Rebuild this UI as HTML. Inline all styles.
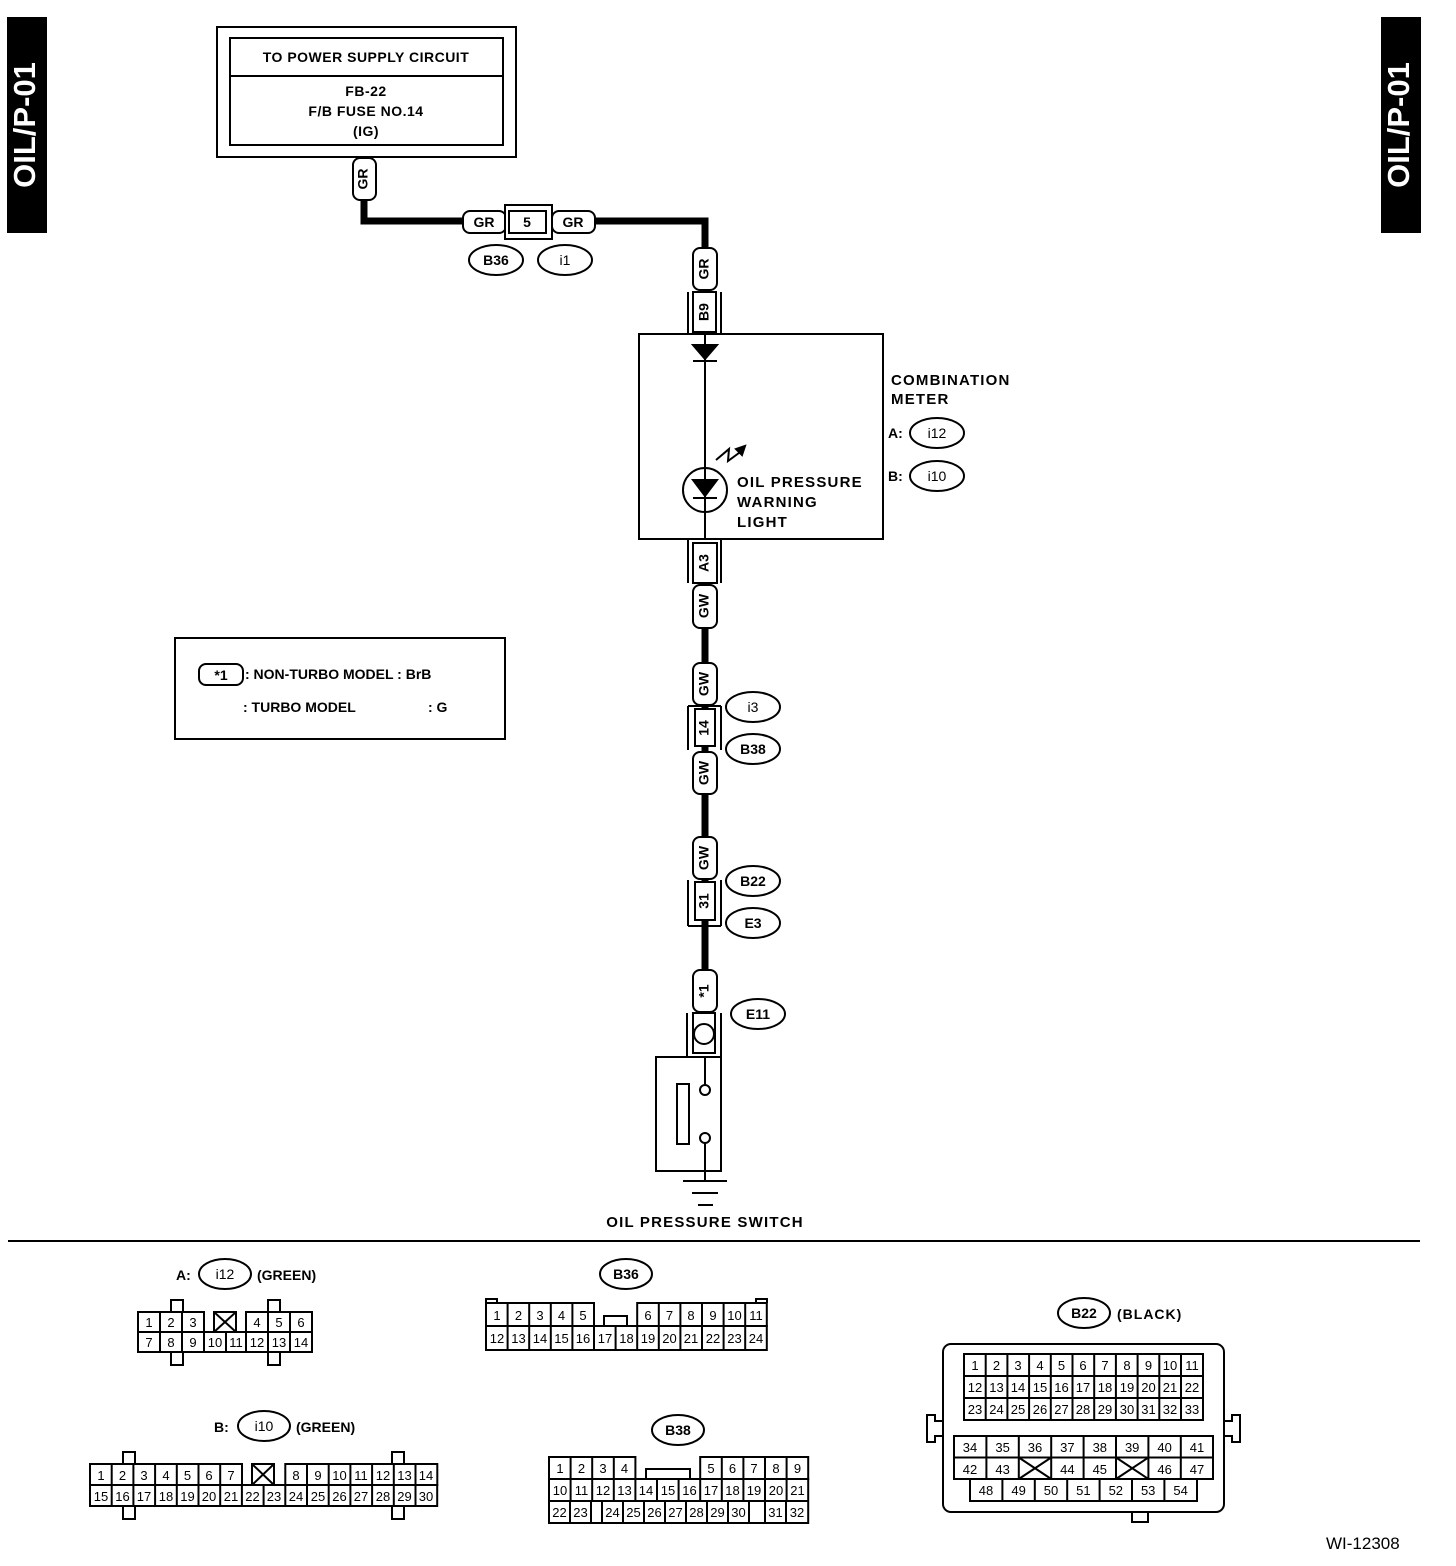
<!DOCTYPE html>
<html><head><meta charset="utf-8"><style>
html,body{margin:0;padding:0;background:#fff;}
svg{display:block}
text{font-family:"Liberation Sans",sans-serif;font-weight:bold;fill:#000}
.n{font-size:13px;font-weight:normal;text-anchor:middle}
.c{text-anchor:middle}
</style></head><body>
<svg width="1456" height="1566" viewBox="0 0 1456 1566" xmlns="http://www.w3.org/2000/svg">
<g fill="none" stroke="#000" stroke-width="2">
<rect x="8" y="18" width="38" height="214" fill="#000"/>
<rect x="1382" y="18" width="38" height="214" fill="#000"/>
<rect x="217" y="27" width="299" height="130"/>
<rect x="230" y="38" width="273" height="107"/>
<line x1="230" y1="76" x2="503" y2="76"/>
<polyline points="364,157 364,221 705,221 705,250" stroke-width="7"/>
<line x1="705" y1="583" x2="705" y2="970" stroke-width="7"/>
<rect x="353" y="158" width="23" height="42" rx="7" fill="#fff"/>
<rect x="463" y="211" width="43" height="22" rx="7" fill="#fff"/>
<rect x="552" y="211" width="43" height="22" rx="7" fill="#fff"/>
<rect x="505" y="205" width="47" height="34" fill="#fff"/>
<rect x="509" y="211" width="37" height="22"/>
<ellipse cx="496" cy="260" rx="27" ry="15"/>
<ellipse cx="565" cy="260" rx="27" ry="15"/>
<rect x="693" y="248" width="24" height="42" rx="7" fill="#fff"/>
<line x1="688" y1="292" x2="688" y2="334"/><line x1="721" y1="292" x2="721" y2="334"/>
<rect x="693" y="292" width="23" height="40" fill="#fff"/>
<rect x="639" y="334" width="244" height="205"/>
<line x1="705" y1="334" x2="705" y2="539"/>
<polygon points="693,345 717,345 705,359" fill="#000"/>
<line x1="693" y1="361" x2="717" y2="361"/>
<circle cx="705" cy="490" r="22" fill="#fff"/>
<line x1="705" y1="468" x2="705" y2="512"/>
<polygon points="693,480 717,480 705,496" fill="#000"/>
<line x1="693" y1="498" x2="717" y2="498"/>
<polyline points="716,460 729,449 728,461 743,450"/>
<polygon points="745,446 736,449 742,455" fill="#000"/>
<ellipse cx="937" cy="433" rx="27" ry="15"/>
<ellipse cx="937" cy="476" rx="27" ry="15"/>
<line x1="688" y1="539" x2="688" y2="583"/><line x1="721" y1="539" x2="721" y2="583"/>
<rect x="693" y="543" width="24" height="40" fill="#fff"/>
<rect x="693" y="585" width="24" height="43" rx="7" fill="#fff"/>
<rect x="693" y="663" width="24" height="42" rx="7" fill="#fff"/>
<line x1="688" y1="706" x2="688" y2="750"/><line x1="721" y1="706" x2="721" y2="750"/>
<line x1="688" y1="706" x2="721" y2="706"/>
<rect x="695" y="709" width="20" height="37" fill="#fff"/>
<rect x="693" y="752" width="24" height="42" rx="7" fill="#fff"/>
<ellipse cx="753" cy="707" rx="27" ry="15"/>
<ellipse cx="753" cy="749" rx="27" ry="15"/>
<rect x="693" y="837" width="24" height="42" rx="7" fill="#fff"/>
<line x1="688" y1="880" x2="688" y2="926"/><line x1="721" y1="880" x2="721" y2="926"/>
<line x1="688" y1="926" x2="721" y2="926"/>
<rect x="695" y="882" width="20" height="38" fill="#fff"/>
<ellipse cx="753" cy="881" rx="27" ry="15"/>
<ellipse cx="753" cy="923" rx="27" ry="15"/>
<rect x="693" y="970" width="24" height="42" rx="7" fill="#fff"/>
<line x1="687" y1="1013" x2="687" y2="1057"/><line x1="721" y1="1013" x2="721" y2="1057"/>
<rect x="693" y="1013" width="22" height="40"/>
<circle cx="704" cy="1034" r="10"/>
<ellipse cx="758" cy="1014" rx="27" ry="15"/>
<rect x="656" y="1057" width="65" height="114"/>
<rect x="677" y="1084" width="12" height="60"/>
<line x1="705" y1="1057" x2="705" y2="1085"/>
<circle cx="705" cy="1090" r="5"/>
<circle cx="705" cy="1138" r="5"/>
<line x1="705" y1="1143" x2="705" y2="1181"/>
<line x1="683" y1="1181" x2="727" y2="1181"/>
<line x1="692" y1="1193" x2="718" y2="1193"/>
<line x1="698" y1="1205" x2="713" y2="1205"/>
<rect x="175" y="638" width="330" height="101"/>
<rect x="199" y="664" width="44" height="21" rx="7"/>
<line x1="8" y1="1241" x2="1420" y2="1241"/>
<ellipse cx="225" cy="1274" rx="26" ry="15"/>
<ellipse cx="626" cy="1274" rx="26" ry="15"/>
<ellipse cx="264" cy="1426" rx="26" ry="15"/>
<ellipse cx="678" cy="1430" rx="26" ry="15"/>
<ellipse cx="1084" cy="1313" rx="26" ry="15"/>
</g>

<g fill="none" stroke="#000" stroke-width="2">
<rect x="138" y="1312" width="66" height="20"/><line x1="160" y1="1312" x2="160" y2="1332"/><line x1="182" y1="1312" x2="182" y2="1332"/>
<rect x="214" y="1312" width="22" height="20"/><line x1="214" y1="1312" x2="236" y2="1332"/><line x1="236" y1="1312" x2="214" y2="1332"/>
<rect x="246" y="1312" width="66" height="20"/><line x1="268" y1="1312" x2="268" y2="1332"/><line x1="290" y1="1312" x2="290" y2="1332"/>
<rect x="138" y="1332" width="174" height="20"/>
<path d="M160 1332v20M182 1332v20M204 1332v20M226 1332v20M246 1332v20M268 1332v20M290 1332v20"/>
<path d="M171 1312v-12h12v12M268 1312v-12h12v12M171 1352v13h12v-13M268 1352v13h12v-13"/>
<rect x="90" y="1464" width="152" height="21"/>
<path d="M111.7 1464v21M133.4 1464v21M155.1 1464v21M176.8 1464v21M198.5 1464v21M220.2 1464v21"/>
<rect x="252" y="1464" width="22" height="21"/><line x1="252" y1="1464" x2="274" y2="1485"/><line x1="274" y1="1464" x2="252" y2="1485"/>
<rect x="285.3" y="1464" width="152" height="21"/>
<path d="M307 1464v21M328.7 1464v21M350.4 1464v21M372.1 1464v21M393.8 1464v21M415.5 1464v21"/>
<rect x="90" y="1485" width="347.2" height="21"/>
<path d="M111.7 1485v21M133.4 1485v21M155.1 1485v21M176.8 1485v21M198.5 1485v21M220.2 1485v21M241.9 1485v21M263.6 1485v21M285.3 1485v21M307 1485v21M328.7 1485v21M350.4 1485v21M372.1 1485v21M393.8 1485v21M415.5 1485v21"/>
<path d="M123 1464v-12h12v12M392 1464v-12h12v12M123 1506v13h12v-13M392 1506v13h12v-13"/>
<rect x="486" y="1303" width="108" height="23"/>
<path d="M507.6 1303v23M529.2 1303v23M550.8 1303v23M572.4 1303v23"/>
<rect x="637.2" y="1303" width="129.6" height="23"/>
<path d="M658.8 1303v23M680.4 1303v23M702 1303v23M723.6 1303v23M745.2 1303v23"/>
<path d="M604 1326v-10h23v10"/>
<rect x="486" y="1326" width="280.8" height="24"/>
<path d="M507.6 1326v24M529.2 1326v24M550.8 1326v24M572.4 1326v24M594 1326v24M615.6 1326v24M637.2 1326v24M658.8 1326v24M680.4 1326v24M702 1326v24M723.6 1326v24M745.2 1326v24"/>
<path d="M486 1303v-4h11v4M756 1303v-4h11v4"/>
<rect x="549" y="1457" width="86.4" height="22"/>
<path d="M570.6 1457v22M592.2 1457v22M613.8 1457v22"/>
<path d="M646 1479v-10h44v10"/>
<rect x="700.2" y="1457" width="108" height="22"/>
<path d="M721.8 1457v22M743.4 1457v22M765 1457v22M786.6 1457v22"/>
<rect x="549" y="1479" width="259.2" height="44"/>
<line x1="549" y1="1501" x2="808.2" y2="1501"/>
<path d="M570.6 1479v22M592.2 1479v22M613.8 1479v22M635.4 1479v22M657 1479v22M678.6 1479v22M700.2 1479v22M721.8 1479v22M743.4 1479v22M765 1479v22M786.6 1479v22"/>
<path d="M570 1501v22M591 1501v22M602 1501v22M623 1501v22M644 1501v22M665 1501v22M686 1501v22M707 1501v22M728 1501v22M749 1501v22M765 1501v22M786 1501v22"/>
<rect x="943" y="1344" width="281" height="168" rx="8"/>
<path d="M943 1421h-8v-6h-8v27h8v-6h8M1224 1421h8v-6h8v27h-8v-6h-8M1132 1512v10h16v-10"/>
<rect x="964" y="1354" width="239" height="66"/>
<path d="M964 1376h239M964 1398h239M985.7 1354v66M1007.4 1354v66M1029.1 1354v66M1050.8 1354v66M1072.5 1354v66M1094.2 1354v66M1115.9 1354v66M1137.6 1354v66M1159.3 1354v66M1181 1354v66"/>
<rect x="954" y="1436" width="259" height="43"/>
<path d="M954 1457.5h259M986.4 1436v43M1018.8 1436v43M1051.2 1436v43M1083.6 1436v43M1116 1436v43M1148.4 1436v43M1180.8 1436v43"/>
<path d="M1018.8 1457.5L1051.2 1479M1051.2 1457.5L1018.8 1479M1116 1457.5L1148.4 1479M1148.4 1457.5L1116 1479"/>
<rect x="970" y="1479" width="227" height="22"/>
<path d="M1002.4 1479v22M1034.8 1479v22M1067.2 1479v22M1099.6 1479v22M1132 1479v22M1164.4 1479v22"/>
</g>

<text x="27" y="125" transform="rotate(-90 27 125)" class="c" font-size="31" style="fill:#fff" dominant-baseline="middle">OIL/P-01</text>
<text x="1401" y="125" transform="rotate(-90 1401 125)" class="c" font-size="31" style="fill:#fff" dominant-baseline="middle">OIL/P-01</text>
<g font-size="14" letter-spacing="0.5">
<text x="366" y="62" class="c">TO POWER SUPPLY CIRCUIT</text>
<text x="366" y="96" class="c">FB-22</text>
<text x="366" y="116" class="c">F/B FUSE NO.14</text>
<text x="366" y="136" class="c">(IG)</text>
</g>
<g font-size="14">
<text x="364" y="179" transform="rotate(-90 364 179)" class="c" dominant-baseline="middle">GR</text>
<text x="484" y="227" class="c">GR</text>
<text x="527" y="227" class="c">5</text>
<text x="573" y="227" class="c">GR</text>
<text x="496" y="265" class="c">B36</text>
<text x="565" y="265" class="c" style="font-weight:normal">i1</text>
<text x="705" y="269" transform="rotate(-90 705 269)" class="c" dominant-baseline="middle">GR</text>
<text x="705" y="312" transform="rotate(-90 705 312)" class="c" dominant-baseline="middle">B9</text>
<text x="705" y="563" transform="rotate(-90 705 563)" class="c" dominant-baseline="middle">A3</text>
<text x="705" y="606" transform="rotate(-90 705 606)" class="c" dominant-baseline="middle">GW</text>
<text x="705" y="684" transform="rotate(-90 705 684)" class="c" dominant-baseline="middle">GW</text>
<text x="705" y="728" transform="rotate(-90 705 728)" class="c" dominant-baseline="middle">14</text>
<text x="705" y="773" transform="rotate(-90 705 773)" class="c" dominant-baseline="middle">GW</text>
<text x="705" y="858" transform="rotate(-90 705 858)" class="c" dominant-baseline="middle">GW</text>
<text x="705" y="901" transform="rotate(-90 705 901)" class="c" dominant-baseline="middle">31</text>
<text x="705" y="991" transform="rotate(-90 705 991)" class="c" dominant-baseline="middle">*1</text>
<text x="753" y="712" class="c" style="font-weight:normal">i3</text>
<text x="753" y="754" class="c">B38</text>
<text x="753" y="886" class="c">B22</text>
<text x="753" y="928" class="c">E3</text>
<text x="758" y="1019" class="c">E11</text>
<text x="937" y="438" class="c" style="font-weight:normal">i12</text>
<text x="937" y="481" class="c" style="font-weight:normal">i10</text>
<text x="888" y="438">A:</text>
<text x="888" y="481">B:</text>
</g>
<g font-size="15" letter-spacing="1.2">
<text x="891" y="385">COMBINATION</text>
<text x="891" y="404">METER</text>
<text x="737" y="487">OIL PRESSURE</text>
<text x="737" y="507">WARNING</text>
<text x="737" y="527">LIGHT</text>
<text x="705" y="1227" class="c">OIL PRESSURE SWITCH</text>
</g>
<g font-size="14">
<text x="221" y="680" class="c">*1</text>
<text x="245" y="679">: NON-TURBO MODEL : BrB</text>
<text x="243" y="712">: TURBO MODEL</text>
<text x="428" y="712">: G</text>
<text x="176" y="1280">A:</text>
<text x="225" y="1279" class="c" style="font-weight:normal">i12</text>
<text x="257" y="1280">(GREEN)</text>
<text x="626" y="1279" class="c">B36</text>
<text x="214" y="1432">B:</text>
<text x="264" y="1431" class="c" style="font-weight:normal">i10</text>
<text x="296" y="1432">(GREEN)</text>
<text x="678" y="1435" class="c">B38</text>
<text x="1084" y="1318" class="c">B22</text>
<text x="1117" y="1319" letter-spacing="1">(BLACK)</text>
</g>
<text x="1326" y="1549" font-size="17" style="font-weight:normal">WI-12308</text>

<g style="font-weight:500">
<text x="149" y="1327" class="n">1</text><text x="171" y="1327" class="n">2</text><text x="193" y="1327" class="n">3</text>
<text x="257" y="1327" class="n">4</text><text x="279" y="1327" class="n">5</text><text x="301" y="1327" class="n">6</text>
<text x="149" y="1347" class="n">7</text><text x="171" y="1347" class="n">8</text><text x="193" y="1347" class="n">9</text>
<text x="215" y="1347" class="n">10</text><text x="236" y="1347" class="n">11</text><text x="257" y="1347" class="n">12</text>
<text x="279" y="1347" class="n">13</text><text x="301" y="1347" class="n">14</text>

<text x="101" y="1480" class="n">1</text><text x="122.5" y="1480" class="n">2</text><text x="144" y="1480" class="n">3</text><text x="166" y="1480" class="n">4</text><text x="187.5" y="1480" class="n">5</text><text x="209" y="1480" class="n">6</text><text x="231" y="1480" class="n">7</text>
<text x="296" y="1480" class="n">8</text><text x="318" y="1480" class="n">9</text><text x="339.5" y="1480" class="n">10</text><text x="361" y="1480" class="n">11</text><text x="383" y="1480" class="n">12</text><text x="404.5" y="1480" class="n">13</text><text x="426" y="1480" class="n">14</text>
<text x="101" y="1501" class="n">15</text><text x="122.5" y="1501" class="n">16</text><text x="144" y="1501" class="n">17</text><text x="166" y="1501" class="n">18</text><text x="187.5" y="1501" class="n">19</text><text x="209" y="1501" class="n">20</text><text x="231" y="1501" class="n">21</text><text x="252.5" y="1501" class="n">22</text><text x="274" y="1501" class="n">23</text><text x="296" y="1501" class="n">24</text><text x="318" y="1501" class="n">25</text><text x="339.5" y="1501" class="n">26</text><text x="361" y="1501" class="n">27</text><text x="383" y="1501" class="n">28</text><text x="404.5" y="1501" class="n">29</text><text x="426" y="1501" class="n">30</text>

<text x="497" y="1320" class="n">1</text><text x="518.5" y="1320" class="n">2</text><text x="540" y="1320" class="n">3</text><text x="561.5" y="1320" class="n">4</text><text x="583" y="1320" class="n">5</text>
<text x="648" y="1320" class="n">6</text><text x="669.5" y="1320" class="n">7</text><text x="691" y="1320" class="n">8</text><text x="713" y="1320" class="n">9</text><text x="734.5" y="1320" class="n">10</text><text x="756" y="1320" class="n">11</text>
<text x="497" y="1343" class="n">12</text><text x="518.5" y="1343" class="n">13</text><text x="540" y="1343" class="n">14</text><text x="561.5" y="1343" class="n">15</text><text x="583" y="1343" class="n">16</text><text x="605" y="1343" class="n">17</text><text x="626.5" y="1343" class="n">18</text><text x="648" y="1343" class="n">19</text><text x="669.5" y="1343" class="n">20</text><text x="691" y="1343" class="n">21</text><text x="713" y="1343" class="n">22</text><text x="734.5" y="1343" class="n">23</text><text x="756" y="1343" class="n">24</text>

<text x="560" y="1473" class="n">1</text><text x="581.5" y="1473" class="n">2</text><text x="603" y="1473" class="n">3</text><text x="624.5" y="1473" class="n">4</text>
<text x="711" y="1473" class="n">5</text><text x="732.5" y="1473" class="n">6</text><text x="754" y="1473" class="n">7</text><text x="776" y="1473" class="n">8</text><text x="797.5" y="1473" class="n">9</text>
<text x="560" y="1495" class="n">10</text><text x="581.5" y="1495" class="n">11</text><text x="603" y="1495" class="n">12</text><text x="624.5" y="1495" class="n">13</text><text x="646" y="1495" class="n">14</text><text x="668" y="1495" class="n">15</text><text x="689.5" y="1495" class="n">16</text><text x="711" y="1495" class="n">17</text><text x="732.5" y="1495" class="n">18</text><text x="754" y="1495" class="n">19</text><text x="776" y="1495" class="n">20</text><text x="797.5" y="1495" class="n">21</text>
<text x="559.5" y="1517" class="n">22</text><text x="580.5" y="1517" class="n">23</text><text x="612.5" y="1517" class="n">24</text><text x="633.5" y="1517" class="n">25</text><text x="654.5" y="1517" class="n">26</text><text x="675.5" y="1517" class="n">27</text><text x="696.5" y="1517" class="n">28</text><text x="717.5" y="1517" class="n">29</text><text x="738.5" y="1517" class="n">30</text><text x="775.5" y="1517" class="n">31</text><text x="797" y="1517" class="n">32</text>

<text x="975" y="1370" class="n">1</text><text x="996.5" y="1370" class="n">2</text><text x="1018" y="1370" class="n">3</text><text x="1040" y="1370" class="n">4</text><text x="1061.5" y="1370" class="n">5</text><text x="1083" y="1370" class="n">6</text><text x="1105" y="1370" class="n">7</text><text x="1127" y="1370" class="n">8</text><text x="1148.5" y="1370" class="n">9</text><text x="1170" y="1370" class="n">10</text><text x="1192" y="1370" class="n">11</text>
<text x="975" y="1392" class="n">12</text><text x="996.5" y="1392" class="n">13</text><text x="1018" y="1392" class="n">14</text><text x="1040" y="1392" class="n">15</text><text x="1061.5" y="1392" class="n">16</text><text x="1083" y="1392" class="n">17</text><text x="1105" y="1392" class="n">18</text><text x="1127" y="1392" class="n">19</text><text x="1148.5" y="1392" class="n">20</text><text x="1170" y="1392" class="n">21</text><text x="1192" y="1392" class="n">22</text>
<text x="975" y="1414" class="n">23</text><text x="996.5" y="1414" class="n">24</text><text x="1018" y="1414" class="n">25</text><text x="1040" y="1414" class="n">26</text><text x="1061.5" y="1414" class="n">27</text><text x="1083" y="1414" class="n">28</text><text x="1105" y="1414" class="n">29</text><text x="1127" y="1414" class="n">30</text><text x="1148.5" y="1414" class="n">31</text><text x="1170" y="1414" class="n">32</text><text x="1192" y="1414" class="n">33</text>
<text x="970" y="1452" class="n">34</text><text x="1002.6" y="1452" class="n">35</text><text x="1035" y="1452" class="n">36</text><text x="1067.4" y="1452" class="n">37</text><text x="1099.8" y="1452" class="n">38</text><text x="1132.2" y="1452" class="n">39</text><text x="1164.6" y="1452" class="n">40</text><text x="1197" y="1452" class="n">41</text>
<text x="970" y="1474" class="n">42</text><text x="1002.6" y="1474" class="n">43</text><text x="1067.4" y="1474" class="n">44</text><text x="1099.8" y="1474" class="n">45</text><text x="1164.6" y="1474" class="n">46</text><text x="1197" y="1474" class="n">47</text>
<text x="986" y="1495" class="n">48</text><text x="1018.6" y="1495" class="n">49</text><text x="1051" y="1495" class="n">50</text><text x="1083.4" y="1495" class="n">51</text><text x="1115.8" y="1495" class="n">52</text><text x="1148.2" y="1495" class="n">53</text><text x="1180.6" y="1495" class="n">54</text>
</g>
</svg>
</body></html>
